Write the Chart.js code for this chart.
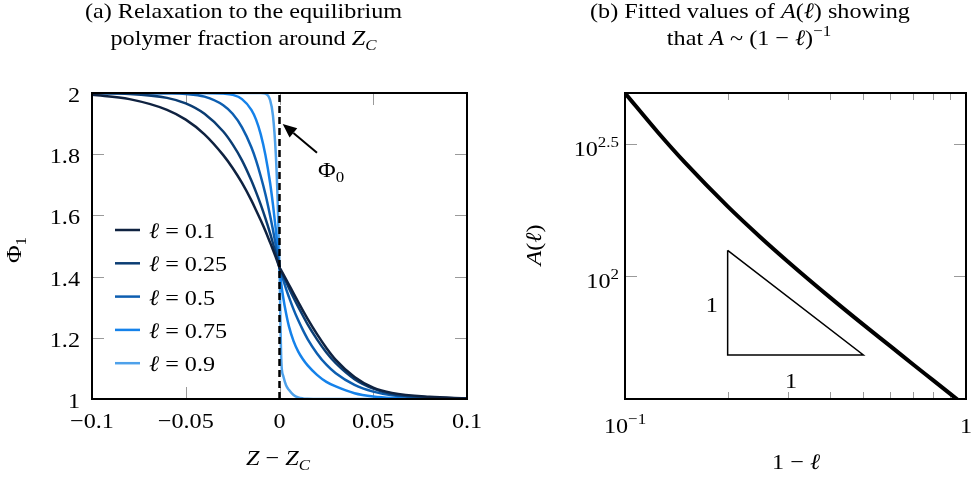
<!DOCTYPE html>
<html>
<head>
<meta charset="utf-8">
<script src="https://cdn.jsdelivr.net/npm/chart.js@4/dist/chart.umd.min.js"></script>
<style>
  html, body { margin: 0; padding: 0; background: #fff; }
  #wrap { position: relative; width: 977px; height: 479px; overflow: hidden; }
  .panel { position: absolute; top: 0; height: 479px; }
  #panelA { left: 0; width: 489px; }
  #panelB { left: 489px; width: 488px; }
</style>
</head>
<body>
<div id="wrap">
  <div class="panel" id="panelA"><canvas id="chartA" width="489" height="479"></canvas></div>
  <div class="panel" id="panelB"><canvas id="chartB" width="488" height="479"></canvas></div>
</div>
<script>
// ---- panel (a): relaxation curves, Phi_1 against Z - Z_C ----
const zGrid = [-0.1, -0.08, -0.06, -0.05, -0.04, -0.03, -0.025, -0.02, -0.015, -0.0125, -0.01, -0.0075, -0.005, -0.0035, -0.002, -0.001,
  0, 0.001, 0.002, 0.0035, 0.005, 0.0075, 0.01, 0.0125, 0.015, 0.02, 0.025, 0.03, 0.04, 0.05, 0.06, 0.08, 0.1];

const phiEll01 = [1.994, 1.980, 1.945, 1.913, 1.865, 1.797, 1.755, 1.706, 1.649, 1.617, 1.584, 1.549, 1.511, 1.488, 1.464, 1.447,
  1.43, 1.419, 1.408, 1.391, 1.374, 1.345, 1.317, 1.289, 1.262, 1.212, 1.167, 1.128, 1.072, 1.037, 1.02, 1.007, 1.002];
const phiEll025 = [1.9995, 1.997, 1.984, 1.966, 1.932, 1.874, 1.832, 1.780, 1.714, 1.676, 1.635, 1.590, 1.541, 1.509, 1.476, 1.453,
  1.43, 1.416, 1.403, 1.383, 1.363, 1.331, 1.301, 1.272, 1.244, 1.195, 1.152, 1.117, 1.065, 1.034, 1.016, 1.005, 1.002];
const phiEll05 = [2.0, 2.0, 1.999, 1.997, 1.988, 1.960, 1.932, 1.888, 1.823, 1.780, 1.728, 1.669, 1.599, 1.553, 1.503, 1.467,
  1.43, 1.409, 1.389, 1.360, 1.334, 1.293, 1.257, 1.225, 1.196, 1.149, 1.112, 1.084, 1.046, 1.024, 1.012, 1.003, 1.001];
const phiEll075 = [2.0, 2.0, 2.0, 2.0, 2.0, 1.998, 1.994, 1.980, 1.945, 1.913, 1.865, 1.797, 1.706, 1.636, 1.556, 1.496,
  1.43, 1.374, 1.331, 1.280, 1.238, 1.189, 1.155, 1.130, 1.110, 1.079, 1.056, 1.041, 1.019, 1.008, 1.003, 1.0005, 1.0];
const phiEll09 = [2.0, 2.0, 2.0, 2.0, 2.0, 2.0, 2.0, 2.0, 2.0, 2.0, 2.0, 1.9976, 1.977, 1.927, 1.804, 1.653,
  1.43, 1.12, 1.075, 1.045, 1.03, 1.013, 1.005, 1.002, 1.001, 1.0, 1.0, 1.0, 1.0, 1.0, 1.0, 1.0, 1.0];

const ellLabels = ['0.1', '0.25', '0.5', '0.75', '0.9'];
const curveColors = ['#0f2240', '#0b3d73', '#0d5eb0', '#1582ea', '#4ea1ea'];

const phiTicks = [1, 1.2, 1.4, 1.6, 1.8, 2];
const phiTickLabels = ['1', '1.2', '1.4', '1.6', '1.8', '2'];
const zTicks = [-0.1, -0.05, 0, 0.05, 0.1];
const zTickLabels = ['\u22120.1', '\u22120.05', '0', '0.05', '0.1'];

// Phi_0 annotation (data coordinates)
const arrowTail = { x: 0.02, y: 1.805 };
const arrowTip = { x: 0.0017, y: 1.899 };
const phi0Label = { x: 0.0205, y: 1.7255 };

// ---- panel (b): fitted A(l) against 1 - l, log-log ----
const oneMinusEll = [0.1, 0.125, 0.15, 0.2, 0.25, 0.3, 0.4, 0.5, 0.6, 0.7, 0.8, 0.95];
const fittedA = [495, 350.6, 269.2, 183.6, 139.9, 113.4, 82.6, 65.2, 54.0, 46.0, 40.1, 33.6];
const triangleX = [0.2, 0.2, 0.5, 0.2];
const triangleY = [125, 50, 50, 125];
const slopeLabels = [{ x: 0.1796, y: 73 }, { x: 0.3067, y: 37.4 }];
const aTicks = [100, 316.228];
const aTickExps = ['2', '2.5'];
const xMinorTicks = [0.2, 0.3, 0.4, 0.5, 0.6, 0.7, 0.8, 0.9];

// ---- text helpers ----
const SERIF = '"Liberation Serif", "Times New Roman", "DejaVu Serif", serif';
const FS = 22;
const STRETCH = 1.1;
const TICK_GREY = '#9a9a9a';

// runs: [text, flags]  flags: i = italic, s = subscript, p = superscript
function drawRich(ctx, runs, x, y, align = 'left', rotate = 0) {
  ctx.save();
  ctx.translate(x, y);
  if (rotate) ctx.rotate(rotate);
  ctx.scale(STRETCH, 1);
  ctx.textBaseline = 'alphabetic';
  ctx.textAlign = 'left';
  ctx.fillStyle = '#000';
  let total = 0;
  const parts = runs.map(([t, f = '']) => {
    const small = f.includes('s') || f.includes('p');
    const size = small ? FS * 0.7 : FS;
    const font = `${f.includes('i') ? 'italic ' : ''}${size}px ${SERIF}`;
    ctx.font = font;
    const w = ctx.measureText(t).width;
    total += w;
    const dy = f.includes('s') ? FS * 0.24 : f.includes('p') ? -FS * 0.42 : 0;
    return { t, font, w, dy };
  });
  let cx = align === 'center' ? -total / 2 : align === 'right' ? -total : 0;
  for (const p of parts) {
    ctx.font = p.font;
    ctx.fillText(p.t, cx, p.dy);
    cx += p.w;
  }
  ctx.restore();
}

function crisp(v) {
  return Math.round(v) + 0.5;
}

// ---- panel (a) plugin ----
const panelAExtras = {
  id: 'panelAExtras',
  beforeDatasetsDraw(chart) {
    const { ctx, chartArea: a, scales: { x, y } } = chart;
    ctx.save();
    ctx.strokeStyle = TICK_GREY;
    ctx.lineWidth = 1;
    ctx.beginPath();
    phiTicks.slice(1, -1).forEach((v) => {
      const py = crisp(y.getPixelForValue(v));
      ctx.moveTo(a.left, py); ctx.lineTo(a.left + 12, py);
      ctx.moveTo(a.right, py); ctx.lineTo(a.right - 12, py);
    });
    zTicks.slice(1, -1).forEach((v) => {
      const px = crisp(x.getPixelForValue(v));
      ctx.moveTo(px, a.top); ctx.lineTo(px, a.top + 12);
      ctx.moveTo(px, a.bottom); ctx.lineTo(px, a.bottom - 12);
    });
    ctx.stroke();
    ctx.restore();
  },
  afterDatasetsDraw(chart) {
    const { ctx, chartArea: a, scales: { x, y } } = chart;
    ctx.save();
    ctx.strokeStyle = '#000';
    ctx.lineWidth = 2;
    ctx.strokeRect(a.left, a.top, a.right - a.left, a.bottom - a.top);

    // arrow to Phi_0
    const tx = x.getPixelForValue(arrowTail.x), ty = y.getPixelForValue(arrowTail.y);
    const hx = x.getPixelForValue(arrowTip.x), hy = y.getPixelForValue(arrowTip.y);
    const ang = Math.atan2(hy - ty, hx - tx);
    const headLen = 14, headW = 6;
    const bx = hx - headLen * Math.cos(ang), by = hy - headLen * Math.sin(ang);
    ctx.lineWidth = 2;
    ctx.beginPath();
    ctx.moveTo(tx, ty); ctx.lineTo(bx, by);
    ctx.stroke();
    ctx.fillStyle = '#000';
    ctx.beginPath();
    ctx.moveTo(hx, hy);
    ctx.lineTo(bx + headW * Math.sin(ang), by - headW * Math.cos(ang));
    ctx.lineTo(bx - headW * Math.sin(ang), by + headW * Math.cos(ang));
    ctx.closePath();
    ctx.fill();
    ctx.restore();

    drawRich(ctx, [['\u03A6'], ['0', 's']], x.getPixelForValue(phi0Label.x), y.getPixelForValue(phi0Label.y));

    // legend
    chart.data.datasets.slice(0, ellLabels.length).forEach((ds, i) => {
      const cy = 230 + i * 33.3;
      ctx.save();
      ctx.strokeStyle = ds.borderColor;
      ctx.lineWidth = 2.5;
      ctx.beginPath();
      ctx.moveTo(115, cy); ctx.lineTo(140, cy);
      ctx.stroke();
      ctx.restore();
      drawRich(ctx, [['\u2113', 'i'], [' = ' + ellLabels[i]]], 149, cy + 8);
    });

    // tick labels
    phiTicks.forEach((v, i) => drawRich(ctx, [[phiTickLabels[i]]], 80, y.getPixelForValue(v) + 9, 'right'));
    zTicks.forEach((v, i) => drawRich(ctx, [[zTickLabels[i]]], x.getPixelForValue(v), 428, 'center'));

    // axis titles
    drawRich(ctx, [['Z', 'i'], [' \u2212 '], ['Z', 'i'], ['C', 'is']], 278, 465, 'center');
    drawRich(ctx, [['\u03A6'], ['1', 's']], 21, 250, 'center', -Math.PI / 2);

    // title
    drawRich(ctx, [['(a) Relaxation to the equilibrium']], 243.5, 18, 'center');
    drawRich(ctx, [['polymer fraction around '], ['Z', 'i'], ['C', 'is']], 243.5, 45, 'center');
  },
};

const curveSeries = [phiEll01, phiEll025, phiEll05, phiEll075, phiEll09];

new Chart(document.getElementById('chartA').getContext('2d'), {
  type: 'line',
  data: {
    datasets: [
      ...curveSeries.map((vals, i) => ({
        label: 'ell = ' + ellLabels[i],
        data: zGrid.map((z, k) => ({ x: z, y: vals[k] })),
        borderColor: curveColors[i],
        borderWidth: 2.5,
        pointRadius: 0,
        cubicInterpolationMode: 'monotone',
        order: i + 1,
      })),
      {
        label: 'Z_C',
        data: [{ x: 0, y: 1 }, { x: 0, y: 2 }],
        borderColor: '#000',
        borderWidth: 2.5,
        borderDash: [7, 4],
        pointRadius: 0,
        order: 0,
      },
    ],
  },
  options: {
    responsive: false,
    animation: false,
    events: [],
    layout: { padding: { left: 92, right: 22, top: 93, bottom: 80 } },
    scales: {
      x: { type: 'linear', min: -0.1, max: 0.1, display: false },
      y: { type: 'linear', min: 1, max: 2, display: false },
    },
    plugins: { legend: { display: false }, tooltip: { enabled: false } },
  },
  plugins: [panelAExtras],
});

// ---- panel (b) plugin ----
const panelBExtras = {
  id: 'panelBExtras',
  beforeDatasetsDraw(chart) {
    const { ctx, chartArea: a, scales: { x, y } } = chart;
    ctx.save();
    ctx.strokeStyle = TICK_GREY;
    ctx.lineWidth = 1;
    ctx.beginPath();
    aTicks.forEach((v) => {
      const py = crisp(y.getPixelForValue(v));
      ctx.moveTo(a.left, py); ctx.lineTo(a.left + 12, py);
      ctx.moveTo(a.right, py); ctx.lineTo(a.right - 12, py);
    });
    xMinorTicks.forEach((v) => {
      const px = crisp(x.getPixelForValue(v));
      ctx.moveTo(px, a.top); ctx.lineTo(px, a.top + 7);
      ctx.moveTo(px, a.bottom); ctx.lineTo(px, a.bottom - 7);
    });
    ctx.stroke();
    ctx.restore();
  },
  afterDatasetsDraw(chart) {
    const { ctx, chartArea: a, scales: { x, y } } = chart;
    ctx.save();
    ctx.strokeStyle = '#000';
    ctx.lineWidth = 2;
    ctx.strokeRect(a.left, a.top, a.right - a.left, a.bottom - a.top);
    ctx.restore();

    slopeLabels.forEach((p) => drawRich(ctx, [['1']], x.getPixelForValue(p.x), y.getPixelForValue(p.y), 'center'));

    aTicks.forEach((v, i) => drawRich(ctx, [['10'], [aTickExps[i], 'p']], 130, y.getPixelForValue(v) + 12, 'right'));
    drawRich(ctx, [['10'], ['\u22121', 'p']], x.getPixelForValue(0.1), 433, 'center');
    drawRich(ctx, [['1']], x.getPixelForValue(1), 433, 'center');

    drawRich(ctx, [['1 \u2212 '], ['\u2113', 'i']], 307, 469, 'center');
    drawRich(ctx, [['A', 'i'], ['('], ['\u2113', 'i'], [')']], 52, 245, 'center', -Math.PI / 2);

    drawRich(ctx, [['(b) Fitted values of '], ['A', 'i'], ['('], ['\u2113', 'i'], [') showing']], 261, 18, 'center');
    drawRich(ctx, [['that '], ['A', 'i'], [' ~ (1 \u2212 '], ['\u2113', 'i'], [')'], ['\u22121', 'p']], 260, 45, 'center');
  },
};

new Chart(document.getElementById('chartB').getContext('2d'), {
  type: 'scatter',
  data: {
    datasets: [
      {
        label: 'A(ell)',
        data: oneMinusEll.map((v, i) => ({ x: v, y: fittedA[i] })),
        showLine: true,
        borderColor: '#000',
        borderWidth: 4,
        pointRadius: 0,
        cubicInterpolationMode: 'monotone',
      },
      {
        label: 'slope -1',
        data: triangleX.map((v, i) => ({ x: v, y: triangleY[i] })),
        showLine: true,
        borderColor: '#000',
        borderWidth: 1.5,
        pointRadius: 0,
      },
    ],
  },
  options: {
    responsive: false,
    animation: false,
    events: [],
    layout: { padding: { left: 136, right: 11, top: 93, bottom: 80 } },
    scales: {
      x: { type: 'logarithmic', min: 0.1, max: 1, display: false },
      y: { type: 'logarithmic', min: 34.0, max: 495.5, display: false },
    },
    plugins: { legend: { display: false }, tooltip: { enabled: false } },
  },
  plugins: [panelBExtras],
});
</script>
</body>
</html>
